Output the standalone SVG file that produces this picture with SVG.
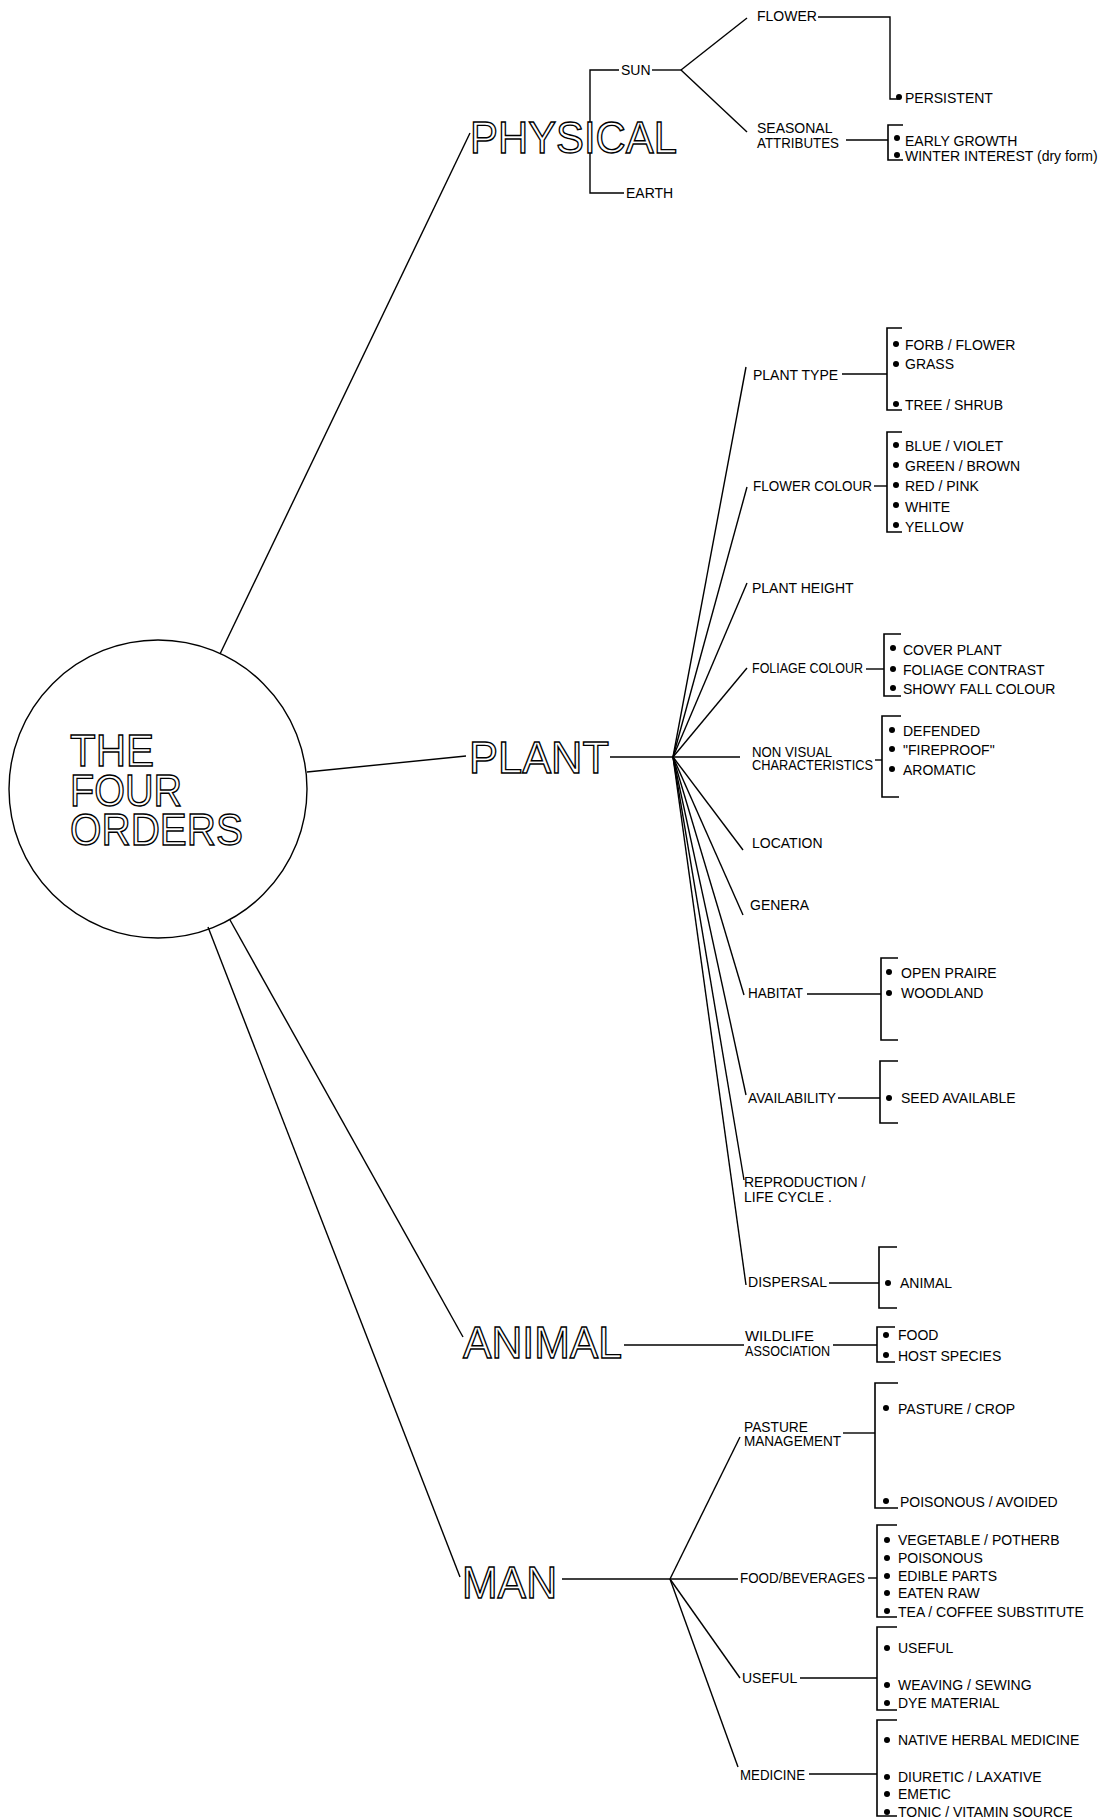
<svg xmlns="http://www.w3.org/2000/svg" width="1109" height="1819" viewBox="0 0 1109 1819">
<style>
.bg{fill:#fff}
.ln{stroke:#000;stroke-width:1.4;fill:none}
.br{stroke:#000;stroke-width:1.6;fill:none}
.big{font-family:"Liberation Sans",Arial,sans-serif;font-size:45px;fill:#fff;stroke:#000;stroke-width:1.4}
.t{font-family:"Liberation Sans",Arial,sans-serif;font-size:14px;fill:#000}
.dot{fill:#000}
</style>
<rect class="bg" x="0" y="0" width="1109" height="1819"/>

<g id="connectors">
  <line class="ln" x1="220" y1="654" x2="470" y2="133"/>
  <line class="ln" x1="307" y1="772" x2="466" y2="756"/>
  <line class="ln" x1="230" y1="920" x2="463" y2="1337"/>
  <line class="ln" x1="208" y1="927" x2="460" y2="1577"/>
  <polyline class="ln" points="619,70 590,70 590,193 624,193"/>
  <line class="ln" x1="652" y1="70" x2="681" y2="70"/>
  <line class="ln" x1="681" y1="70" x2="747" y2="18"/>
  <line class="ln" x1="681" y1="70" x2="747" y2="132"/>
  <polyline class="ln" points="818,17 890,17 890,99 898,99"/>
  <line class="ln" x1="846" y1="140" x2="888" y2="140"/>
  <line class="ln" x1="610" y1="757" x2="740" y2="757"/>
  <line class="ln" x1="673" y1="757" x2="746" y2="367"/>
  <line class="ln" x1="673" y1="757" x2="747" y2="487"/>
  <line class="ln" x1="673" y1="757" x2="747" y2="583"/>
  <line class="ln" x1="673" y1="757" x2="747" y2="668"/>
  <line class="ln" x1="673" y1="757" x2="743" y2="850"/>
  <line class="ln" x1="673" y1="757" x2="743" y2="915"/>
  <line class="ln" x1="673" y1="757" x2="744" y2="995"/>
  <line class="ln" x1="673" y1="757" x2="746" y2="1095"/>
  <line class="ln" x1="673" y1="757" x2="744" y2="1180"/>
  <line class="ln" x1="673" y1="757" x2="746" y2="1285"/>
  <line class="ln" x1="842" y1="374" x2="887" y2="374"/>
  <line class="ln" x1="874" y1="486" x2="887" y2="486"/>
  <line class="ln" x1="866" y1="669" x2="884" y2="669"/>
  <line class="ln" x1="875" y1="760" x2="882" y2="760"/>
  <line class="ln" x1="807" y1="994" x2="881" y2="994"/>
  <line class="ln" x1="838" y1="1098" x2="880" y2="1098"/>
  <line class="ln" x1="829" y1="1283" x2="879" y2="1283"/>
  <line class="ln" x1="624" y1="1345" x2="744" y2="1345"/>
  <line class="ln" x1="833" y1="1345" x2="877" y2="1345"/>
  <line class="ln" x1="562" y1="1579" x2="738" y2="1579"/>
  <line class="ln" x1="670" y1="1579" x2="740" y2="1437"/>
  <line class="ln" x1="670" y1="1579" x2="740" y2="1678"/>
  <line class="ln" x1="670" y1="1579" x2="738" y2="1767"/>
  <line class="ln" x1="843" y1="1433" x2="875" y2="1433"/>
  <line class="ln" x1="868" y1="1578" x2="877" y2="1578"/>
  <line class="ln" x1="800" y1="1678" x2="877" y2="1678"/>
  <line class="ln" x1="809" y1="1774" x2="877" y2="1774"/>
</g>

<g id="four-orders">
  <circle cx="158" cy="789" r="149" fill="none" stroke="#000" stroke-width="1.4"/>
  <text class="big" x="70" y="766" font-size="41" textLength="84" lengthAdjust="spacingAndGlyphs">THE</text>
  <text class="big" x="70" y="806" font-size="41" textLength="112" lengthAdjust="spacingAndGlyphs">FOUR</text>
  <text class="big" x="70" y="845" font-size="41" textLength="173" lengthAdjust="spacingAndGlyphs">ORDERS</text>
</g>

<g id="physical"><text class="big" x="470" y="153" textLength="207" lengthAdjust="spacingAndGlyphs">PHYSICAL</text></g>
<g id="sun"><text class="t" x="621" y="75">SUN</text></g>
<g id="earth"><text class="t" x="626" y="198">EARTH</text></g>
<g id="flower"><text class="t" x="757" y="21">FLOWER</text></g>
<g id="persistent"><circle class="dot" cx="899" cy="97" r="3"/><text class="t" x="905" y="103">PERSISTENT</text></g>
<g id="seasonal">
  <text class="t" x="757" y="133">SEASONAL</text>
  <text class="t" x="757" y="148" textLength="82" lengthAdjust="spacingAndGlyphs">ATTRIBUTES</text>
  <polyline class="br" points="903,125 888,125 888,160 903,160"/>
  <circle class="dot" cx="897" cy="138" r="3"/><text class="t" x="905" y="146">EARLY GROWTH</text>
  <circle class="dot" cx="897" cy="155" r="3"/><text class="t" x="905" y="161">WINTER INTEREST (dry form)</text>
</g>

<g id="plant"><text class="big" x="469" y="773" textLength="140" lengthAdjust="spacingAndGlyphs">PLANT</text></g>
<g id="plant-type">
  <text class="t" x="753" y="380">PLANT TYPE</text>
  <polyline class="br" points="902,328 887,328 887,410 902,410"/>
  <circle class="dot" cx="896" cy="344" r="3"/><text class="t" x="905" y="350">FORB / FLOWER</text>
  <circle class="dot" cx="896" cy="364" r="3"/><text class="t" x="905" y="369">GRASS</text>
  <circle class="dot" cx="896" cy="404" r="3"/><text class="t" x="905" y="410">TREE / SHRUB</text>
</g>
<g id="flower-colour">
  <text class="t" x="753" y="491" textLength="119" lengthAdjust="spacingAndGlyphs">FLOWER COLOUR</text>
  <polyline class="br" points="902,432 887,432 887,532 902,532"/>
  <circle class="dot" cx="896" cy="445" r="3"/><text class="t" x="905" y="451">BLUE / VIOLET</text>
  <circle class="dot" cx="896" cy="465" r="3"/><text class="t" x="905" y="471">GREEN / BROWN</text>
  <circle class="dot" cx="896" cy="485" r="3"/><text class="t" x="905" y="491">RED / PINK</text>
  <circle class="dot" cx="896" cy="505" r="3"/><text class="t" x="905" y="512">WHITE</text>
  <circle class="dot" cx="896" cy="525" r="3"/><text class="t" x="905" y="532">YELLOW</text>
</g>
<g id="plant-height"><text class="t" x="752" y="593">PLANT HEIGHT</text></g>
<g id="foliage-colour">
  <text class="t" x="752" y="673" textLength="111" lengthAdjust="spacingAndGlyphs">FOLIAGE COLOUR</text>
  <polyline class="br" points="901,634 884,634 884,696 901,696"/>
  <circle class="dot" cx="893" cy="648" r="3"/><text class="t" x="903" y="655">COVER PLANT</text>
  <circle class="dot" cx="893" cy="669" r="3"/><text class="t" x="903" y="675">FOLIAGE CONTRAST</text>
  <circle class="dot" cx="893" cy="688" r="3"/><text class="t" x="903" y="694">SHOWY FALL COLOUR</text>
</g>
<g id="non-visual">
  <text class="t" x="752" y="757" textLength="80" lengthAdjust="spacingAndGlyphs">NON VISUAL</text>
  <text class="t" x="752" y="770" textLength="121" lengthAdjust="spacingAndGlyphs">CHARACTERISTICS</text>
  <polyline class="br" points="901,716 882,716 882,797 899,797"/>
  <circle class="dot" cx="892" cy="730" r="3"/><text class="t" x="903" y="736">DEFENDED</text>
  <circle class="dot" cx="892" cy="749" r="3"/><text class="t" x="903" y="755">"FIREPROOF"</text>
  <circle class="dot" cx="892" cy="769" r="3"/><text class="t" x="903" y="775">AROMATIC</text>
</g>
<g id="location"><text class="t" x="752" y="848">LOCATION</text></g>
<g id="genera"><text class="t" x="750" y="910">GENERA</text></g>
<g id="habitat">
  <text class="t" x="748" y="998" textLength="55" lengthAdjust="spacingAndGlyphs">HABITAT</text>
  <polyline class="br" points="898,958 881,958 881,1040 898,1040"/>
  <circle class="dot" cx="889" cy="972" r="3"/><text class="t" x="901" y="978">OPEN PRAIRE</text>
  <circle class="dot" cx="889" cy="993" r="3"/><text class="t" x="901" y="998">WOODLAND</text>
</g>
<g id="availability">
  <text class="t" x="748" y="1103" textLength="88" lengthAdjust="spacingAndGlyphs">AVAILABILITY</text>
  <polyline class="br" points="898,1061 880,1061 880,1123 898,1123"/>
  <circle class="dot" cx="889" cy="1098" r="3"/><text class="t" x="901" y="1103">SEED AVAILABLE</text>
</g>
<g id="reproduction">
  <text class="t" x="744" y="1187">REPRODUCTION /</text>
  <text class="t" x="744" y="1202">LIFE CYCLE .</text>
</g>
<g id="dispersal">
  <text class="t" x="748" y="1287" textLength="79" lengthAdjust="spacingAndGlyphs">DISPERSAL</text>
  <polyline class="br" points="897,1247 879,1247 879,1308 897,1308"/>
  <circle class="dot" cx="888" cy="1283" r="3"/><text class="t" x="900" y="1288">ANIMAL</text>
</g>

<g id="animal"><text class="big" x="463" y="1358" textLength="159" lengthAdjust="spacingAndGlyphs">ANIMAL</text></g>
<g id="wildlife">
  <text class="t" x="745" y="1341" textLength="69" lengthAdjust="spacingAndGlyphs">WILDLIFE</text>
  <text class="t" x="745" y="1356" textLength="85" lengthAdjust="spacingAndGlyphs">ASSOCIATION</text>
  <polyline class="br" points="895,1327 877,1327 877,1362 895,1362"/>
  <circle class="dot" cx="886" cy="1335" r="3"/><text class="t" x="898" y="1340">FOOD</text>
  <circle class="dot" cx="886" cy="1355" r="3"/><text class="t" x="898" y="1361">HOST SPECIES</text>
</g>

<g id="man"><text class="big" x="462" y="1598" textLength="95" lengthAdjust="spacingAndGlyphs">MAN</text></g>
<g id="pasture">
  <text class="t" x="744" y="1432" textLength="64" lengthAdjust="spacingAndGlyphs">PASTURE</text>
  <text class="t" x="744" y="1446" textLength="97" lengthAdjust="spacingAndGlyphs">MANAGEMENT</text>
  <polyline class="br" points="898,1383 875,1383 875,1508 898,1508"/>
  <circle class="dot" cx="886" cy="1408" r="3"/><text class="t" x="898" y="1414">PASTURE / CROP</text>
  <circle class="dot" cx="886" cy="1501" r="3"/><text class="t" x="900" y="1507">POISONOUS / AVOIDED</text>
</g>
<g id="food">
  <text class="t" x="740" y="1583" textLength="125" lengthAdjust="spacingAndGlyphs">FOOD/BEVERAGES</text>
  <polyline class="br" points="897,1525 877,1525 877,1617 897,1617"/>
  <circle class="dot" cx="887" cy="1540" r="3"/><text class="t" x="898" y="1545">VEGETABLE / POTHERB</text>
  <circle class="dot" cx="887" cy="1558" r="3"/><text class="t" x="898" y="1563">POISONOUS</text>
  <circle class="dot" cx="887" cy="1576" r="3"/><text class="t" x="898" y="1581">EDIBLE PARTS</text>
  <circle class="dot" cx="887" cy="1593" r="3"/><text class="t" x="898" y="1598">EATEN RAW</text>
  <circle class="dot" cx="887" cy="1611" r="3"/><text class="t" x="898" y="1617">TEA / COFFEE SUBSTITUTE</text>
</g>
<g id="useful">
  <text class="t" x="742" y="1683">USEFUL</text>
  <polyline class="br" points="897,1627 877,1627 877,1710 897,1710"/>
  <circle class="dot" cx="887" cy="1648" r="3"/><text class="t" x="898" y="1653">USEFUL</text>
  <circle class="dot" cx="887" cy="1685" r="3"/><text class="t" x="898" y="1690">WEAVING / SEWING</text>
  <circle class="dot" cx="887" cy="1703" r="3"/><text class="t" x="898" y="1708">DYE MATERIAL</text>
</g>
<g id="medicine">
  <text class="t" x="740" y="1780" textLength="65" lengthAdjust="spacingAndGlyphs">MEDICINE</text>
  <polyline class="br" points="897,1720 877,1720 877,1816 897,1816"/>
  <circle class="dot" cx="887" cy="1740" r="3"/><text class="t" x="898" y="1745">NATIVE HERBAL MEDICINE</text>
  <circle class="dot" cx="887" cy="1777" r="3"/><text class="t" x="898" y="1782">DIURETIC / LAXATIVE</text>
  <circle class="dot" cx="887" cy="1794" r="3"/><text class="t" x="898" y="1799">EMETIC</text>
  <circle class="dot" cx="887" cy="1812" r="3"/><text class="t" x="898" y="1817">TONIC / VITAMIN SOURCE</text>
</g>
</svg>
